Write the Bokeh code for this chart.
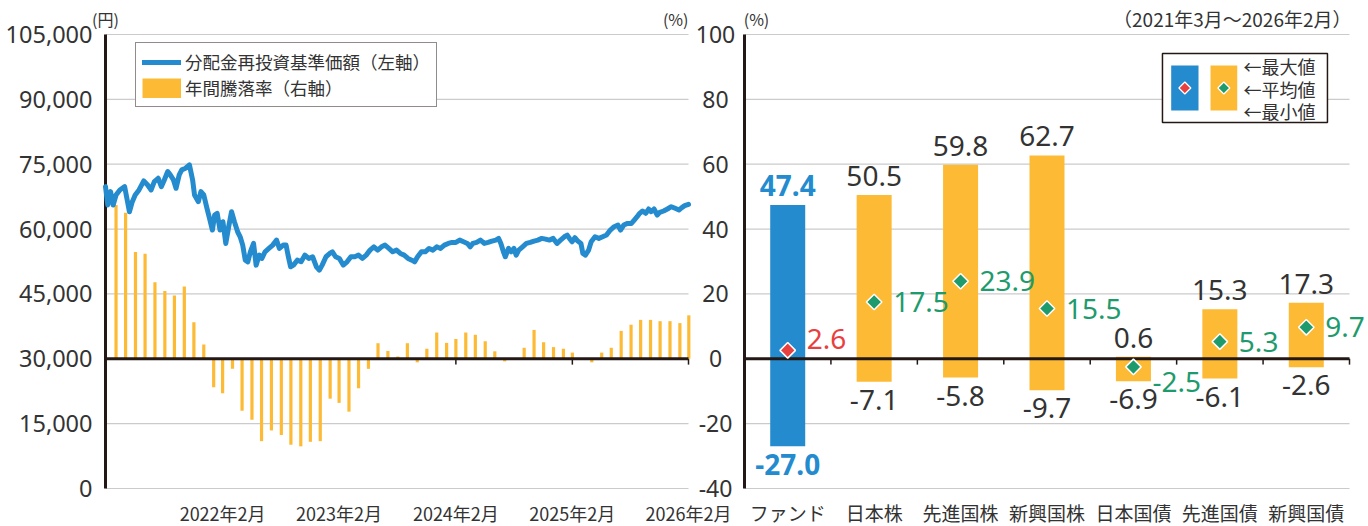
import math
import pandas as pd
from bokeh.plotting import figure
from bokeh.models import Range1d, Legend, LegendItem
from bokeh.embed import file_html
from bokeh.resources import INLINE
from bokeh.core.properties import value

# ---------------- data ----------------
NAV_START = "2021-02-26"
nav_day = [0, 7, 16, 24, 33, 45, 60, 67, 75, 84,
           93, 105, 120, 132, 143, 153, 165, 175, 183, 195,
           203, 213, 221, 231, 239, 251, 263, 273, 279, 291,
           299, 308, 318, 326, 335, 342, 350, 359, 368, 377,
           386, 395, 404, 414, 422, 430, 438, 446, 454, 464,
           472, 482, 490, 500, 512, 524, 536, 545, 557, 566,
           572, 580, 589, 601, 613, 625, 637, 649, 661, 670,
           679, 691, 703, 711, 721, 733, 745, 757, 769, 781,
           793, 805, 817, 829, 841, 853, 865, 876, 888, 900,
           912, 924, 936, 948, 960, 969, 978, 990, 1002, 1014,
           1026, 1038, 1050, 1062, 1074, 1086, 1098, 1110, 1122, 1134,
           1143, 1151, 1163, 1175, 1187, 1199, 1211, 1223, 1232, 1239,
           1247, 1253, 1263, 1271, 1280, 1287, 1295, 1307, 1319, 1331,
           1343, 1355, 1367, 1379, 1391, 1403, 1415, 1426, 1438, 1447,
           1454, 1462, 1471, 1480, 1490, 1496, 1504, 1514, 1522, 1534,
           1546, 1558, 1570, 1582, 1594, 1606, 1614, 1624, 1636, 1648,
           1657, 1666, 1674, 1683, 1693, 1702, 1710, 1719, 1729, 1737,
           1749, 1761, 1773, 1785, 1797, 1806, 1815, 1827]
nav_yen = [69820, 65570, 68660, 65570, 67890, 69050, 69820, 67100, 64020, 66340,
           67890, 69050, 71130, 70200, 69050, 70980, 71750, 69820, 71130, 73300,
           72530, 71370, 69430, 72530, 73690, 74070, 74850, 71370, 67890, 66340,
           68660, 67890, 64800, 62480, 59770, 63250, 63640, 59770, 61700, 56680,
           60540, 64020, 61700, 59380, 58220, 56290, 52810, 52430, 54750, 56680,
           51660, 53980, 53210, 54750, 55520, 56290, 57450, 55520, 56290, 56290,
           53980, 51270, 51660, 52810, 52430, 53980, 53210, 53600, 51270, 50500,
           51660, 53600, 54360, 54750, 53600, 53210, 51660, 52430, 53600, 53600,
           53980, 53210, 53980, 55130, 55900, 55130, 55900, 56290, 55520, 54750,
           55130, 54360, 53980, 53210, 52810, 52430, 53600, 54750, 54750, 55520,
           55130, 55900, 55520, 56290, 56680, 56910, 56910, 57450, 57070, 56680,
           55900, 56680, 56910, 57450, 56680, 56910, 57220, 57450, 57840, 56680,
           54750, 53600, 55520, 54750, 55520, 53980, 55130, 55900, 56680, 56910,
           57220, 57450, 57840, 57680, 57450, 57840, 56680, 57450, 58220, 58610,
           57840, 57070, 58000, 57220, 56680, 54360, 53980, 55130, 57070, 58220,
           57840, 58220, 58610, 59770, 60540, 60930, 59770, 60930, 61310, 61310,
           62090, 62860, 63640, 64180, 63640, 64640, 64020, 64640, 63250, 63870,
           64180, 64640, 65180, 64800, 64410, 64950, 65410, 65720]

RET_FIRST_MONTH_END = "2021-03-31"
annual_return = [47.4, 45.0, 32.9, 32.4, 23.6, 20.9, 19.5, 22.3, 11.3, 4.4,
                 -8.8, -10.6, -3.1, -16.0, -18.8, -25.4, -22.1, -23.5, -26.5, -27.0,
                 -25.6, -25.4, -12.3, -13.6, -16.3, -9.1, -3.1, 4.8, 2.4, 0.7,
                 4.8, -1.1, 3.1, 8.1, 4.9, 6.1, 8.1, 7.4, 5.4, 2.3,
                 -0.8, 0.1, 3.4, 8.9, 5.1, 3.6, 3.1, 1.9, -0.3, -1.1,
                 1.9, 3.4, 8.6, 10.5, 12.0, 12.0, 11.6, 11.6, 11.0, 13.4]

yen_ticks = [0, 15000, 30000, 45000, 60000, 75000, 90000, 105000]
pct_ticks = [-40, -20, 0, 20, 40, 60, 80, 100]
date_ticks = ["2022-02-28", "2023-02-28", "2024-02-29", "2025-02-28", "2026-02-27"]
date_tick_labels = ["2022年2月", "2023年2月", "2024年2月", "2025年2月", "2026年2月"]

asset_names = ["ファンド", "日本株", "先進国株", "新興国株", "日本国債", "先進国債", "新興国債"]
asset_max = [47.4, 50.5, 59.8, 62.7, 0.6, 15.3, 17.3]
asset_avg = [2.6, 17.5, 23.9, 15.5, -2.5, 5.3, 9.7]
asset_min = [-27.0, -7.1, -5.8, -9.7, -6.9, -6.1, -2.6]

legend_left = ["分配金再投資基準価額（左軸）", "年間騰落率（右軸）"]
legend_right = ["←最大値", "←平均値", "←最小値"]
period_text = "（2021年3月～2026年2月）"
yen_unit = "(円)"
pct_unit = "(%)"

# ---------------- style / layout ----------------
BLUE = "#238BCE"
ORANGE = "#FDBA35"
BLACK = "#231815"
GRID = "#CBCBCB"
TEXT = "#333333"
RED = "#E8403F"
GREEN = "#1E9B6D"
JP = value("Noto Sans CJK JP")
NUM = value("Noto Sans")

W, H = 1368, 526
TOP, BOTTOM = 34, 488          # plot areas (both panels)
L_X0, L_X1 = 105, 688          # left panel
R_X0, R_X1 = 744, 1349         # right panel

t0 = pd.Timestamp(NAV_START)
nav_x = [t0 + pd.Timedelta(days=d) for d in nav_day]
t_end = nav_x[-1]
try:
    ret_x = list(pd.date_range(RET_FIRST_MONTH_END, periods=len(annual_return), freq="ME"))
except Exception:
    ret_x = list(pd.date_range(RET_FIRST_MONTH_END, periods=len(annual_return), freq="M"))
tick_x = [pd.Timestamp(d) for d in date_ticks]
n = len(asset_names)
centers = [i + 0.5 for i in range(n)]

# scales: every panel maps through its own range covering the whole canvas
ppp = (BOTTOM - TOP) / (pct_ticks[-1] - pct_ticks[0])
pct_rng = Range1d(pct_ticks[0] - (H - BOTTOM) / ppp, pct_ticks[-1] + TOP / ppp)
ppy = (BOTTOM - TOP) / (yen_ticks[-1] - yen_ticks[0])
yen_rng = Range1d(yen_ticks[0] - (H - BOTTOM) / ppy, yen_ticks[-1] + TOP / ppy)
ppc = (R_X1 - R_X0) / n
cat_rng = Range1d(-R_X0 / ppc, n + (W - R_X1) / ppc)
span_days = (t_end - t0).total_seconds() / 86400.0
ppd = (L_X1 - L_X0) / span_days
date_rng = Range1d(t0 - pd.Timedelta(days=L_X0 / ppd), t_end + pd.Timedelta(days=(W - L_X1) / ppd))

p = figure(width=W, height=H, x_range=cat_rng, y_range=pct_rng,
           x_axis_location=None, y_axis_location=None, min_border=0,
           output_backend="svg", toolbar_location=None)
p.extra_x_ranges = {"date": date_rng}
p.extra_y_ranges = {"yen": yen_rng}
p.grid.visible = False
p.outline_line_color = None
p.background_fill_color = "white"
p.border_fill_color = "white"

D = dict(x_range_name="date")
DY = dict(x_range_name="date", y_range_name="yen")

# ---------- left panel ----------
ny = len(yen_ticks)
p.segment(x0=[t0] * ny, x1=[t_end] * ny, y0=yen_ticks, y1=yen_ticks,
          line_color=GRID, line_width=1.2, **DY)
p.segment(x0=tick_x, x1=tick_x, y0=[0] * len(tick_x), y1=[-1.8] * len(tick_x),
          line_color=BLACK, line_width=1.5, **D)
p.vbar(x=ret_x, top=annual_return, bottom=0, width=10 * 86400000,
       fill_color=ORANGE, line_color=None, **D)
p.segment(x0=[t0], x1=[t_end], y0=[0], y1=[0], line_color=BLACK, line_width=3, **D)
p.segment(x0=[t0], x1=[t0], y0=[yen_ticks[0]], y1=[yen_ticks[-1]],
          line_color=BLACK, line_width=3, **DY)
nav_r = p.line(nav_x, nav_yen, line_color=BLUE, line_width=5,
               line_join="round", line_cap="round", **DY)
bar_key = p.line(x=[t0], y=[float("nan")], line_color=ORANGE, line_width=20,
                 line_cap="butt", **DY)

p.text(x=[t0] * ny, y=yen_ticks, text=[f"{v:,}" for v in yen_ticks],
       x_offset=-13, text_align="right", text_baseline="middle",
       text_font=NUM, text_font_size="23.5px", text_color=TEXT, **DY)
p.text(x=[t_end] * len(pct_ticks), y=pct_ticks, text=[str(v) for v in pct_ticks],
       x_offset=27, text_align="center", text_baseline="middle",
       text_font=NUM, text_font_size="23px", text_color=TEXT, **D)
p.text(x=tick_x, y=[pct_ticks[0]] * len(tick_x), text=date_tick_labels,
       y_offset=24, text_align="center", text_baseline="middle",
       text_font=JP, text_font_size="18px", text_color=TEXT, **D)
p.text(x=[t0], y=[yen_ticks[-1]], text=[yen_unit], y_offset=-16,
       text_align="center", text_baseline="middle",
       text_font=JP, text_font_size="16px", text_color=TEXT, **DY)
p.text(x=[t_end], y=[pct_ticks[-1]], text=[pct_unit], y_offset=-16,
       text_align="right", text_baseline="middle",
       text_font=JP, text_font_size="16px", text_color=TEXT, **D)

leg = Legend(items=[LegendItem(label=legend_left[0], renderers=[nav_r]),
                    LegendItem(label=legend_left[1], renderers=[bar_key])],
             location=(135, H - 107), glyph_width=39, glyph_height=20, label_standoff=4,
             padding=6, spacing=1, margin=0,
             border_line_color=BLACK, border_line_width=1.5,
             background_fill_color="white", background_fill_alpha=1,
             label_text_font="Noto Sans CJK JP", label_text_font_size="17.5px",
             label_text_color=TEXT)
p.add_layout(leg)

# ---------- right panel ----------
npt = len(pct_ticks)
p.segment(x0=[0] * npt, x1=[n] * npt, y0=pct_ticks, y1=pct_ticks,
          line_color=GRID, line_width=1.2)
bounds = [i + 1 for i in range(n)]
p.segment(x0=bounds, x1=bounds, y0=[0] * n, y1=[-1.8] * n, line_color=BLACK, line_width=1.5)
p.vbar(x=centers, top=asset_max, bottom=asset_min, width=0.405,
       fill_color=[BLUE] + [ORANGE] * (n - 1), line_color=None)
p.segment(x0=[0], x1=[n], y0=[0], y1=[0], line_color=BLACK, line_width=3)
p.segment(x0=[0], x1=[0], y0=[pct_ticks[0]], y1=[pct_ticks[-1]], line_color=BLACK, line_width=3)
p.scatter(x=centers, y=asset_avg, marker="square", angle=math.pi / 4, size=11,
          fill_color=[RED] + [GREEN] * (n - 1), line_color="white", line_width=1.5)

fmt = lambda v: f"{v:.1f}"
lab_color = [BLUE] + [TEXT] * (n - 1)
lab_style = ["bold"] + ["normal"] * (n - 1)
p.text(x=centers, y=asset_max, text=[fmt(v) for v in asset_max], y_offset=-9,
       text_align="center", text_baseline="bottom", text_color=lab_color,
       text_font_style=lab_style, text_font=NUM, text_font_size="28px")
p.text(x=centers, y=asset_min, text=[fmt(v) for v in asset_min], y_offset=8,
       text_align="center", text_baseline="top", text_color=lab_color,
       text_font_style=lab_style, text_font=NUM, text_font_size="28px")
avg_nudge = [-11, 0, 0, 0, 15, 0, 0]
p.text(x=centers, y=asset_avg, text=[fmt(v) for v in asset_avg], x_offset=19,
       y_offset=avg_nudge, text_align="left", text_baseline="middle",
       text_color=[RED] + [GREEN] * (n - 1), text_font=NUM, text_font_size="28px")

p.text(x=centers, y=[pct_ticks[0]] * n, text=asset_names, y_offset=24,
       text_align="center", text_baseline="middle",
       text_font=JP, text_font_size="19px", text_color=TEXT)
p.text(x=[0], y=[pct_ticks[-1]], text=[pct_unit], x_offset=12, y_offset=-16,
       text_align="center", text_baseline="middle",
       text_font=JP, text_font_size="16px", text_color=TEXT)
p.text(x=[n], y=[pct_ticks[-1]], text=[period_text], x_offset=2, y_offset=-16,
       text_align="right", text_baseline="middle",
       text_font=JP, text_font_size="19px", text_color=TEXT)

# legend schematic (right panel)
p.quad(left=[4.836], right=[6.745], top=[94.14], bottom=[72.86], fill_color="white",
       line_color=BLACK, line_width=1.5)
p.quad(left=[4.937, 5.392], right=[5.253, 5.701], top=[90.44, 90.44], bottom=[76.56, 76.56],
       fill_color=[BLUE, ORANGE], line_color=None)
p.scatter(x=[5.095, 5.546], y=[83.5, 83.5], marker="square", angle=math.pi / 4, size=8.5,
          fill_color=[RED, GREEN], line_color="white", line_width=1.2)
p.text(x=[5.774] * 3, y=[90.22, 83.04, 76.3], text=legend_right, text_align="left",
       text_baseline="middle", text_font=JP, text_font_size="18px", text_color=TEXT)

open("out.html", "w").write(file_html(p, INLINE))
